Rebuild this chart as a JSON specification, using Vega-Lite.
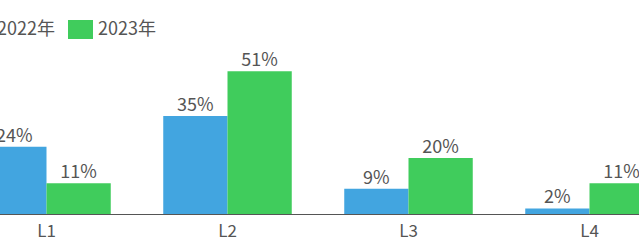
{
  "$schema": "https://vega.github.io/schema/vega-lite/v6.json",
  "width": 724,
  "height": 214,
  "autosize": {"type": "none"},
  "padding": {"left": -44, "top": 0, "right": 0, "bottom": 37},
  "background": "white",
  "config": {
    "view": {"stroke": null},
    "font": "Noto Sans CJK SC"
  },
  "data": {
    "values": [
      {"level": "L1", "year": "2022年", "value": 24},
      {"level": "L1", "year": "2023年", "value": 11},
      {"level": "L2", "year": "2022年", "value": 35},
      {"level": "L2", "year": "2023年", "value": 51},
      {"level": "L3", "year": "2022年", "value": 9},
      {"level": "L3", "year": "2023年", "value": 20},
      {"level": "L4", "year": "2022年", "value": 2},
      {"level": "L4", "year": "2023年", "value": 11}
    ]
  },
  "encoding": {
    "x": {
      "field": "level",
      "type": "nominal",
      "scale": {"paddingInner": 0.29, "paddingOuter": 0.145},
      "axis": {
        "title": null,
        "labelAngle": 0,
        "ticks": false,
        "labelFontSize": 17,
        "labelColor": "#555555",
        "labelPadding": 9,
        "domainColor": "#555555",
        "domainWidth": 1
      }
    },
    "xOffset": {"field": "year", "type": "nominal", "scale": {"paddingInner": 0, "paddingOuter": 0}},
    "y": {
      "field": "value",
      "type": "quantitative",
      "scale": {"domain": [0, 76.4], "nice": false},
      "axis": null
    }
  },
  "layer": [
    {
      "mark": {"type": "bar"},
      "encoding": {
        "color": {
          "field": "year",
          "type": "nominal",
          "scale": {"domain": ["2022年", "2023年"], "range": ["#42a5e0", "#40cc5c"]},
          "legend": {
            "title": null,
            "orient": "none",
            "direction": "horizontal",
            "legendX": 11,
            "legendY": 17,
            "padding": 0,
            "symbolType": "M-1,-0.76H1V0.76H-1Z",
            "symbolSize": 625,
            "symbolStrokeWidth": 0,
            "symbolOpacity": 1,
            "labelFontSize": 18,
            "labelColor": "#555555",
            "labelOffset": 5,
            "columnPadding": 13
          }
        }
      }
    },
    {
      "transform": [{"calculate": "datum.value + '%'", "as": "lbl"}],
      "mark": {"type": "text", "baseline": "bottom", "dy": -1, "fontSize": 18, "color": "#555555"},
      "encoding": {
        "text": {"field": "lbl", "type": "nominal"},
        "detail": {"field": "year"}
      }
    }
  ]
}
